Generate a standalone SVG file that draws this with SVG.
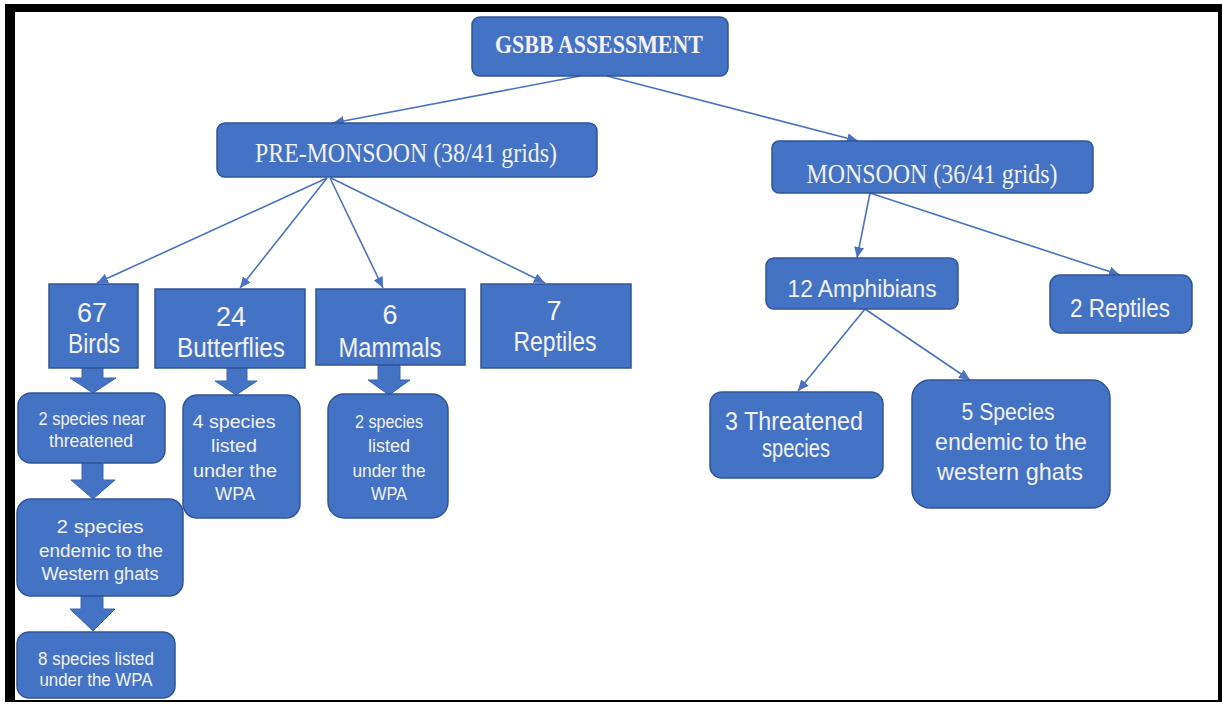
<svg xmlns="http://www.w3.org/2000/svg" width="1222" height="710" viewBox="0 0 1222 710">
<style>
.box{fill:#4472c4;stroke:#2f5597;stroke-width:1.5}
.t{fill:#f2f2f2;text-anchor:middle;font-family:"Liberation Sans","DejaVu Sans",sans-serif}
.s{fill:#f2f2f2;text-anchor:middle;font-family:"Liberation Serif","DejaVu Serif",serif}
.conn{stroke:#4a72c0;stroke-width:1.6;fill:none}
.blk{fill:#4472c4;stroke:#3b64ad;stroke-width:1}
</style>
<defs>
<marker id="ah" markerUnits="userSpaceOnUse" markerWidth="12" markerHeight="10" refX="11" refY="5" orient="auto">
<path d="M0,0 L11,5 L0,10 z" fill="#4a72c0"/>
</marker>
</defs>
<rect x="0" y="0" width="1222" height="710" fill="#ffffff"/>
<g id="frame" fill="#000">
<rect x="5" y="4" width="1217" height="8"/>
<rect x="5" y="4" width="10" height="698"/>
<rect x="1218" y="4" width="4" height="698"/>
<rect x="5" y="700" width="1217" height="2"/>
</g>
<g id="connectors">
<line class="conn" x1="580" y1="76" x2="333" y2="123" marker-end="url(#ah)"/>
<line class="conn" x1="607" y1="76" x2="858" y2="141" marker-end="url(#ah)"/>
<line class="conn" x1="327" y1="178" x2="97" y2="283" marker-end="url(#ah)"/>
<line class="conn" x1="327" y1="178" x2="240" y2="288" marker-end="url(#ah)"/>
<line class="conn" x1="330" y1="178" x2="383" y2="288" marker-end="url(#ah)"/>
<line class="conn" x1="331" y1="178" x2="545" y2="283" marker-end="url(#ah)"/>
<line class="conn" x1="870" y1="193" x2="857" y2="258" marker-end="url(#ah)"/>
<line class="conn" x1="870" y1="193" x2="1120" y2="275" marker-end="url(#ah)"/>
<line class="conn" x1="865" y1="309" x2="798" y2="391" marker-end="url(#ah)"/>
<line class="conn" x1="865" y1="309" x2="970" y2="380" marker-end="url(#ah)"/>
<polygon class="blk" points="82,368 103,368 103,378 116,378 93,393 70,378 82,378"/>
<polygon class="blk" points="82,463 103,463 103,480 115,480 93,499 71,480 82,480"/>
<polygon class="blk" points="81,596 103,596 103,609 115,609 93,631 70,609 81,609"/>
<polygon class="blk" points="227,368 247,368 247,381 257,381 236,395 215,381 227,381"/>
<polygon class="blk" points="378,365 400,365 400,380 410,380 389,395 368,380 378,380"/>
</g>
<g id="gsbb">
<rect class="box" x="472" y="17" width="256" height="59" rx="8"/>
<text class="s" x="599" y="53" font-size="26" font-weight="bold" textLength="208" lengthAdjust="spacingAndGlyphs">GSBB ASSESSMENT</text>
</g>
<g id="premonsoon">
<rect class="box" x="217" y="123" width="380" height="54" rx="8"/>
<text class="s" x="406" y="162" font-size="27" textLength="302" lengthAdjust="spacingAndGlyphs">PRE-MONSOON (38/41 grids)</text>
</g>
<g id="monsoon">
<rect class="box" x="772" y="141" width="321" height="52" rx="7"/>
<text class="s" x="932" y="183" font-size="27" textLength="251" lengthAdjust="spacingAndGlyphs">MONSOON (36/41 grids)</text>
</g>
<g id="birds">
<rect class="box" x="49" y="284" width="89" height="84"/>
<text class="t" x="92" y="322" font-size="27">67</text>
<text class="t" x="94" y="353" font-size="27" textLength="52" lengthAdjust="spacingAndGlyphs">Birds</text>
</g>
<g id="butterflies">
<rect class="box" x="155" y="289" width="150" height="79"/>
<text class="t" x="231" y="326" font-size="27">24</text>
<text class="t" x="231" y="357" font-size="27" textLength="108" lengthAdjust="spacingAndGlyphs">Butterflies</text>
</g>
<g id="mammals">
<rect class="box" x="316" y="289" width="149" height="76"/>
<text class="t" x="390" y="324" font-size="27">6</text>
<text class="t" x="390" y="357" font-size="27" textLength="103" lengthAdjust="spacingAndGlyphs">Mammals</text>
</g>
<g id="reptiles7">
<rect class="box" x="481" y="284" width="150" height="84"/>
<text class="t" x="554" y="320" font-size="27">7</text>
<text class="t" x="555" y="351" font-size="27" textLength="83" lengthAdjust="spacingAndGlyphs">Reptiles</text>
</g>
<g id="amphibians">
<rect class="box" x="766" y="258" width="192" height="51" rx="8"/>
<text class="t" x="862" y="297" font-size="23" textLength="149" lengthAdjust="spacingAndGlyphs">12 Amphibians</text>
</g>
<g id="reptiles2">
<rect class="box" x="1050" y="275" width="142" height="58" rx="10"/>
<text class="t" x="1120" y="317" font-size="25" textLength="100" lengthAdjust="spacingAndGlyphs">2 Reptiles</text>
</g>
<g id="threatened">
<rect class="box" x="710" y="392" width="173" height="86" rx="12"/>
<text class="t" x="794" y="430" font-size="25" textLength="138" lengthAdjust="spacingAndGlyphs">3 Threatened</text>
<text class="t" x="796" y="457" font-size="25" textLength="68" lengthAdjust="spacingAndGlyphs">species</text>
</g>
<g id="endemic5">
<rect class="box" x="912" y="380" width="198" height="128" rx="18"/>
<text class="t" x="1008" y="420" font-size="24" textLength="93" lengthAdjust="spacingAndGlyphs">5 Species</text>
<text class="t" x="1011" y="450" font-size="24" textLength="152" lengthAdjust="spacingAndGlyphs">endemic to the</text>
<text class="t" x="1010" y="480" font-size="24" textLength="146" lengthAdjust="spacingAndGlyphs">western ghats</text>
</g>
<g id="nearthreatened">
<rect class="box" x="18" y="393" width="147" height="70" rx="13"/>
<text class="t" x="92" y="425" font-size="18" textLength="107" lengthAdjust="spacingAndGlyphs">2 species near</text>
<text class="t" x="91" y="447" font-size="18" textLength="84" lengthAdjust="spacingAndGlyphs">threatened</text>
</g>
<g id="butterflywpa">
<rect class="box" x="183" y="395" width="117" height="123" rx="14"/>
<text class="t" x="234" y="428" font-size="18" textLength="83" lengthAdjust="spacingAndGlyphs">4 species</text>
<text class="t" x="234" y="452" font-size="18" textLength="46" lengthAdjust="spacingAndGlyphs">listed</text>
<text class="t" x="235" y="477" font-size="18" textLength="84" lengthAdjust="spacingAndGlyphs">under the</text>
<text class="t" x="235" y="500" font-size="18" textLength="40" lengthAdjust="spacingAndGlyphs">WPA</text>
</g>
<g id="mammalwpa">
<rect class="box" x="328" y="394" width="120" height="124" rx="16"/>
<text class="t" x="389" y="428" font-size="18" textLength="68" lengthAdjust="spacingAndGlyphs">2 species</text>
<text class="t" x="389" y="452" font-size="18" textLength="42" lengthAdjust="spacingAndGlyphs">listed</text>
<text class="t" x="389" y="477" font-size="18" textLength="73" lengthAdjust="spacingAndGlyphs">under the</text>
<text class="t" x="389" y="500" font-size="18" textLength="36" lengthAdjust="spacingAndGlyphs">WPA</text>
</g>
<g id="westernghats">
<rect class="box" x="17" y="499" width="166" height="97" rx="14"/>
<text class="t" x="100" y="533" font-size="18" textLength="87" lengthAdjust="spacingAndGlyphs">2 species</text>
<text class="t" x="101" y="557" font-size="18" textLength="124" lengthAdjust="spacingAndGlyphs">endemic to the</text>
<text class="t" x="100" y="580" font-size="18" textLength="117" lengthAdjust="spacingAndGlyphs">Western ghats</text>
</g>
<g id="birdwpa">
<rect class="box" x="17" y="632" width="158" height="66" rx="12"/>
<text class="t" x="96" y="665" font-size="18" textLength="116" lengthAdjust="spacingAndGlyphs">8 species listed</text>
<text class="t" x="96" y="686" font-size="18" textLength="113" lengthAdjust="spacingAndGlyphs">under the WPA</text>
</g>
</svg>
